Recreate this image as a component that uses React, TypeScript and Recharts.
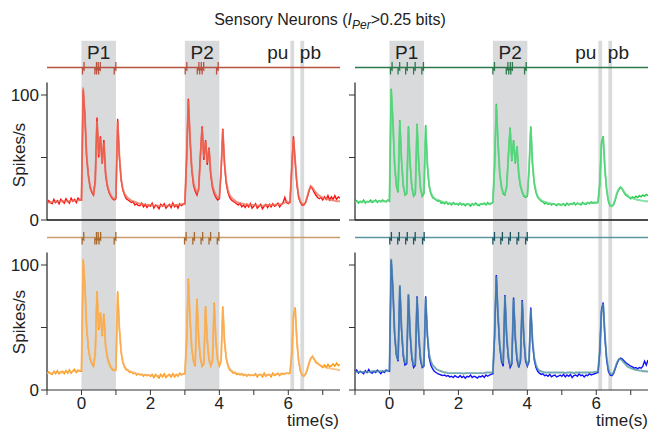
import React from 'react';
import { ComposedChart, Line, XAxis, YAxis, ReferenceArea, ReferenceLine, ReferenceDot } from 'recharts';

// time grid: starts at -1 s, 0.05 s step, 171 samples (to 7.5 s)
const T_START = -1;
const T_STEP = 0.05;

// ---- Top-left (red) ----
const redSmooth = [
  14,14,14,14.5,14.5,14.5,14.5,15,15,15,15,15,15,15,15.5,15.5,15.5,15.5,15.5,16,
  16,106,82,52,35,27,23,21,30,79,52,66,46,62,38,28,23,20,18,17,
  18,79,52,33,25,21,19,17.5,16.5,15.5,15,14.5,14,13.5,13,13,12.5,12.5,12,12,
  12,12,11.5,11.5,11.5,11.5,11.5,11.5,11.5,11.5,11.5,11.5,12,12,12,12,12,12.5,12.5,13,
  13,50,96,66,42,30,25,22,24,50,74,50,63,46,57,38,28,23,20,18,
  18,40,72,46,31,24,20,18,16.5,15.5,14.5,14,13.5,13,13,12.5,12.5,12,12,12,
  12,12,11.5,11.5,11.5,11.5,11.5,12,12,12,12,12,12,12.5,12.5,12.5,12.5,13,14,15,
  14,15,40,65,48,30,20,15,13,12.5,14,19,24,27,26,24,22,20.5,19.5,18.5,
  18,17.5,17,16.5,16,16,15.5,15.5,15,15,15,
];
const redNoisy = [
  13,15.5,14,13,16.5,14,15.5,13,16.5,15,13.5,17,15,13.5,17.5,15,16.5,14,17.5,16,
  16,104,84,50,36,26,22,20,32,82,50,67,45,64,36,27,22,19,17,16,
  17,81,50,32,24,20,17,16,15,14,14.5,12,13,11.5,11.5,13.5,10.5,12.5,10,12,
  11,13.5,9.5,12,11,9,12.5,11,13,9.5,11,12.5,10,13.5,10.5,12,9.5,13,11.5,12.5,
  13,48,97,64,40,28,23,20,25,52,75,48,64,44,58,36,26,21,18,16,
  17,38,73,44,29,22,18,16,15,14,13,12,13.5,10.5,12,10,12.5,10.5,13,9.5,
  11,13,9.5,11,12.5,9,11,12.5,10,12.5,10.5,13,11,12,13.5,10.5,12.5,14,18,14,
  13,14,42,67,46,28,18,14,12,12,14,18,23,27,25,22,20,18,17,18,
  16,18.5,16.5,19.5,16,18.5,16.5,19.5,16.5,18.5,17.5,
];

// ---- Top-right (green) ----
const greenSmooth = [
  14.5,14.5,14.5,14.5,14.5,14.5,14.5,14.5,14.5,14.5,15,15,15,15,15,15,15,15,15,15.5,
  16,104,80,45,28,23,79,48,28,21,22,74,45,27,20,22,76,45,26,20,
  22,75,45,28,22,19,17.5,16.5,16,15.5,15,14.5,14,14,13.5,13.5,13,13,13,13,
  13,13,12.5,12.5,12.5,12.5,12.5,12.5,12.5,12.5,12.5,12.5,12.5,12.5,13,13,13,13,13,13.5,
  14,45,92,62,38,27,22,21,26,50,73,48,63,46,58,38,28,23,20,19,
  20,42,74,46,30,23,19,17,16,15,14.5,14,13.5,13,13,13,12.5,12.5,12.5,12.5,
  12.5,12.5,12.5,12.5,12.5,12.5,13,13,13,13,13,13,13,13,13.5,13.5,13.5,13.5,14,14,
  14,14.5,30,60,66,42,25,16,12,11,12.5,17,22,25,26.5,25,23,21,20,18.5,
  18,17.5,17,16.5,16,16,15.5,15.5,15,15,15,
];
const greenNoisy = [
  14,15.5,13.5,15,14,16,13.5,15,14.5,16,14,15,16,14,15.5,14.5,16,15,14.5,16,
  15,105,78,44,27,22,80,47,27,20,21,75,44,26,19,21,77,44,25,19,
  21,76,43,27,21,18,17,16,15,15.5,13.5,14,13,14.5,12.5,13.5,12,14,12.5,13,
  12,13.5,12,13,11.5,13,12.5,11,13,12,13.5,12,11.5,13,12.5,13.5,12,14,12.5,13,
  14,43,93,60,37,26,21,20,27,52,74,47,64,45,59,36,27,22,19,18,
  19,40,75,44,29,22,18,16.5,15,14.5,13,14,12.5,13.5,12,13,12.5,11.5,13,12,
  12,13,11.5,13.5,12,13,12.5,14,12,13.5,13,12,14,13,12.5,14,13,14.5,13.5,14,
  13.5,14,28,62,67,40,24,15,11.5,11,12,16,21,24,26,25,22,20,19,18,
  17,18.5,17.5,19,18,19.5,18.5,20,19,20.5,19.5,
];

// ---- Bottom-left (orange) ----
const orangeSmooth = [
  13.5,13.5,13.5,13.5,14,14,14,14,14,14,14.5,14.5,14.5,14.5,14.5,15,15,15,15,15.5,
  16,105,82,52,34,26,22,20,28,78,50,62,44,60,36,27,22,19,17,16,
  17,78,50,31,23,19,17,16,15,14.5,14,13.5,13,13,12.5,12.5,12,12,12,12,
  11.5,11.5,11.5,11.5,11.5,11.5,11.5,11.5,11.5,11.5,11.5,11.5,12,12,12,12,12,12.5,12.5,13,
  13,40,88,58,34,24,20,72,42,26,20,22,66,40,25,20,24,69,40,25,
  20,24,66,40,26,20,17,15.5,14.5,14,13.5,13,13,12.5,12.5,12,12,12,12,12,
  12,12,12,12,12,12,12,12,12,12,12,12.5,12.5,12.5,12.5,12.5,12.5,13,13,13.5,
  13.5,14,30,58,65,40,24,16,12.5,11.5,13,17,22,25.5,26.5,25,23,21.5,20.5,19.5,
  19,18.5,18,17.5,17.5,17,17,16.5,16.5,16,16,
];
const orangeNoisy = [
  13,14.5,13,12.5,15,13,15.5,13,14.5,15,13,15.5,13.5,16,13.5,15.5,16.5,14,16,15,
  15,104,83,50,33,25,21,19,30,79,48,62,43,61,35,26,21,18,16,15.5,
  16,79,49,30,22,18,16,15.5,14,14.5,13,13.5,12,13,12,12.5,11,12.5,11.5,12,
  11,12.5,10,12.5,11,9.5,12.5,10.5,13,10,11.5,12.5,10.5,13,10.5,12.5,11,13.5,12,13,
  13,38,89,56,33,23,19,73,41,25,19,21,67,39,24,19,23,70,39,24,
  19,23,67,38,25,19,16,15,13.5,14,12.5,13,12,13,11.5,12.5,11,12.5,11.5,12,
  11.5,13,10.5,12.5,12.5,10.5,13.5,11,12.5,12.5,10.5,13.5,11.5,12.5,13.5,11.5,13.5,12.5,13,13.5,
  13,13.5,28,60,66,38,23,15,12,11,12.5,16,21,25,27,24.5,22,21,20,19,
  18,20,18,20.5,18.5,19.5,21,19,21.5,19.5,20.5,
];

// ---- Bottom-right (blue) ----
const blueSmooth = [
  14.5,14.5,14.5,14.5,14.5,14.5,14.5,14.5,14.5,14.5,15,15,15,15,15,15,15,15,15,15.5,
  16,105,82,46,29,24,84,50,29,22,22,77,46,27,20,21,74,44,26,19,
  20,74,45,29,23,20,18.5,17,16,15.5,15,14.5,14,14,13.5,13.5,13.5,13.5,13.5,13.5,
  13.5,13.5,13.5,13,13.5,13.5,13.5,13.5,13.5,13.5,13.5,13.5,13.5,13.5,13.5,13.5,14,14,14,14,
  14,45,91,60,36,25,21,75,44,27,20,22,73,43,26,20,24,71,42,25,
  20,24,65,40,26,20,17,15.5,15,14.5,14,14,14,14,14,14,14,14,14,14,
  14,14,13.5,14,14,14,14,13.5,14,14,14,14,14,14,14,14,14,14,14,14.5,
  14.5,15,32,62,69,44,26,17,13,12.5,14,18,22,24.5,25,23.5,22,20.5,19,18,
  17.5,17,16.5,16,16,15.5,15.5,15,15,15,14.5,
];
const blueNoisy = [
  14,16,13.5,15,14,13,15.5,14,16.5,14,13.5,15,14,16,14.5,13,15,14,16,15.5,
  15,104,80,44,28,23,83,48,27,20,21,76,44,25,18,20,75,42,24,18,
  19,75,43,26,20,17,15,14,13,12.5,12,11.5,12,11,11.5,10.5,11,10,11.5,10.5,
  10,11.5,10,11,9.5,11,10.5,12,10,11,10.5,9.5,11,10.5,11.5,10,12,11,12,12.5,
  13,43,92,58,34,23,19,76,42,25,18,21,74,41,24,18,23,72,40,23,
  19,23,66,38,24,18,15,13.5,12.5,13,11.5,12,11,12.5,10.5,11.5,12,10.5,11,12,
  11,12.5,10.5,12,11,12.5,10,11.5,12,11,13,11.5,12,10.5,12,11.5,13,12,12.5,13,
  13.5,14,30,64,70,42,24,15,12,11.5,13,17,21,24,25.5,25,23.5,22,21,20,
  19,18.5,17.5,18,17,18,17.5,19,23,20,24,
];

// stimulus spike times (s)
const ticksRed = [0.05, 0.41, 0.46, 0.52, 0.97, 3.03, 3.38, 3.45, 3.52, 3.94];
const ticksGreen = [0.05, 0.27, 0.49, 0.72, 0.96, 3.02, 3.41, 3.48, 3.54, 3.94];
const ticksOrange = [0.04, 0.41, 0.46, 0.53, 0.97, 3.01, 3.25, 3.49, 3.72, 3.96];
const ticksBlue = [0.03, 0.26, 0.49, 0.72, 0.98, 3.02, 3.25, 3.48, 3.72, 3.97];

// stimulus windows
const stimStart = [0, 3, 6.06, 6.35];
const stimEnd = [1, 4, 6.17, 6.46];
const stimNames = ['P1', 'P2', 'pu', 'pb'];

const xTicks = [-1, 0, 1, 2, 3, 4, 5, 6, 7];
const yTicks = [0, 50, 100];

const RASTER = 122;
const FONT = '"Liberation Sans", Arial, Helvetica, sans-serif';

function buildRows(smooth: number[], noisy: number[]) {
  return smooth.map((s, i) => ({ t: Math.round((T_START + i * T_STEP) * 100) / 100, s, n: noisy[i] }));
}

const spikeShape = (color: string) => (p: any) => {
  const cx = p.cx, cy = p.cy;
  return (
    <path
      d={`M${cx - 0.7},${cy + 7} L${cx - 0.7},${cy + 1} L${cx + 0.9},${cy + 2.5} L${cx + 0.9},${cy - 5.5}`}
      stroke={color}
      strokeWidth={1.3}
      fill="none"
    />
  );
};

const stimLabel = (text: string, idx: number) => (props: any) => {
  const vb = props.viewBox || {};
  let x = vb.x + vb.width / 2;
  let anchor: any = 'middle';
  if (idx === 2) { x = vb.x - 2; anchor = 'end'; }
  if (idx === 3) { x = vb.x - 0.5; anchor = 'start'; }
  return (
    <text x={x} y={vb.y + 18.5} textAnchor={anchor} fontSize={19} fill="#222" fontFamily={FONT}>{text}</text>
  );
};

type PanelProps = {
  left: number; top: number; isTop: boolean; showYLabels: boolean;
  smooth: number[]; noisy: number[]; ticks: number[];
  cSmooth: string; cNoisy: string; cRaster: string; cTick: string;
};

function Panel(pp: PanelProps) {
  const { left, top, isTop, showYLabels, smooth, noisy, ticks, cSmooth, cNoisy, cRaster, cTick } = pp;
  const h = isTop ? 232 : 230;
  const domTop = isTop ? 145.6 : 135.2;
  const grayTop = isTop ? 143.5 : 135.2;
  const data = buildRows(smooth, noisy);
  return (
    <div style={{ position: 'absolute', left, top }}>
      <ComposedChart
        width={345}
        height={h}
        data={data}
        margin={{ top: isTop ? 38 : 21, right: 5, bottom: isTop ? 12 : 0, left: 0 }}
      >
        <XAxis
          dataKey="t"
          type="number"
          domain={[-1, 7.5]}
          ticks={xTicks}
          hide={isTop}
          height={40}
          tickSize={5}
          tickMargin={2}
          stroke="#333"
          tick={{ fontSize: 17, fill: '#222', fontFamily: FONT }}
          tickFormatter={(v: number) => (v % 2 === 0 ? String(v) : '')}
          allowDataOverflow
        />
        <YAxis
          type="number"
          domain={[0, domTop]}
          ticks={yTicks}
          width={47}
          axisLine={false}
          tickSize={6}
          tickMargin={2}
          tickLine={{ stroke: '#333' }}
          tick={{ fontSize: 17, fill: '#222', fontFamily: FONT }}
          tickFormatter={(v: number) => (showYLabels && v !== 50 ? String(v) : '')}
          allowDataOverflow
        />
        {stimStart.map((s, i) => (
          <ReferenceArea
            key={'a' + i}
            x1={s}
            x2={stimEnd[i]}
            y1={0}
            y2={grayTop}
            fill="#d9dadc"
            fillOpacity={1}
            stroke="none"
            label={isTop ? stimLabel(stimNames[i], i) : undefined}
          />
        ))}
        <ReferenceLine y={RASTER} stroke={cRaster} strokeWidth={1.3} />
        <ReferenceLine segment={[{ x: -1, y: 0 }, { x: -1, y: 110 }]} stroke="#333" strokeWidth={1.3} />
        {isTop && <ReferenceLine y={0} stroke="#111" strokeWidth={1.6} />}
        <Line type="linear" dataKey="n" stroke={cNoisy} strokeWidth={1.4} dot={false} isAnimationActive={false} />
        <Line type="linear" dataKey="s" stroke={cSmooth} strokeWidth={1.9} strokeOpacity={0.78} dot={false} isAnimationActive={false} />
        {ticks.map((t, i) => (
          <ReferenceDot key={'k' + i} x={t} y={RASTER} r={0} shape={spikeShape(cTick)} />
        ))}
      </ComposedChart>
    </div>
  );
}

export default function App() {
  return (
    <div style={{ position: 'absolute', left: 0, top: 0, width: 651, height: 430, background: '#fff', fontFamily: FONT, overflow: 'hidden' }}>
      <Panel left={0} top={0} isTop showYLabels smooth={redSmooth} noisy={redNoisy} ticks={ticksRed}
        cSmooth="#e8735e" cNoisy="#ff1010" cRaster="#b8523e" cTick="#b8523e" />
      <Panel left={308} top={0} isTop showYLabels={false} smooth={greenSmooth} noisy={greenNoisy} ticks={ticksGreen}
        cSmooth="#63d98a" cNoisy="#1fc841" cRaster="#2f7a4c" cTick="#2f7a4c" />
      <Panel left={0} top={200} isTop={false} showYLabels smooth={orangeSmooth} noisy={orangeNoisy} ticks={ticksOrange}
        cSmooth="#f8b466" cNoisy="#ff9500" cRaster="#c99c6c" cTick="#a8682c" />
      <Panel left={308} top={200} isTop={false} showYLabels={false} smooth={blueSmooth} noisy={blueNoisy} ticks={ticksBlue}
        cSmooth="#4f949e" cNoisy="#1010ff" cRaster="#5b969f" cTick="#1f5560" />
      <svg width={651} height={430} style={{ position: 'absolute', left: 0, top: 0, pointerEvents: 'none' }}>
        <text x={330} y={25} textAnchor="middle" fontSize={16} fill="#222" fontFamily={FONT}>
          Sensory Neurons (<tspan fontStyle="italic">I</tspan>
          <tspan fontStyle="italic" fontSize={12} dy={4}>Per</tspan>
          <tspan dy={-4}>&gt;0.25 bits)</tspan>
        </text>
        <text x={0} y={0} transform="translate(25,155) rotate(-90)" textAnchor="middle" fontSize={17} fill="#222" fontFamily={FONT}>Spikes/s</text>
        <text x={0} y={0} transform="translate(25,322) rotate(-90)" textAnchor="middle" fontSize={17} fill="#222" fontFamily={FONT}>Spikes/s</text>
        <text x={339} y={426} textAnchor="end" fontSize={17} fill="#222" fontFamily={FONT}>time(s)</text>
        <text x={648} y={426} textAnchor="end" fontSize={17} fill="#222" fontFamily={FONT}>time(s)</text>
      </svg>
    </div>
  );
}
